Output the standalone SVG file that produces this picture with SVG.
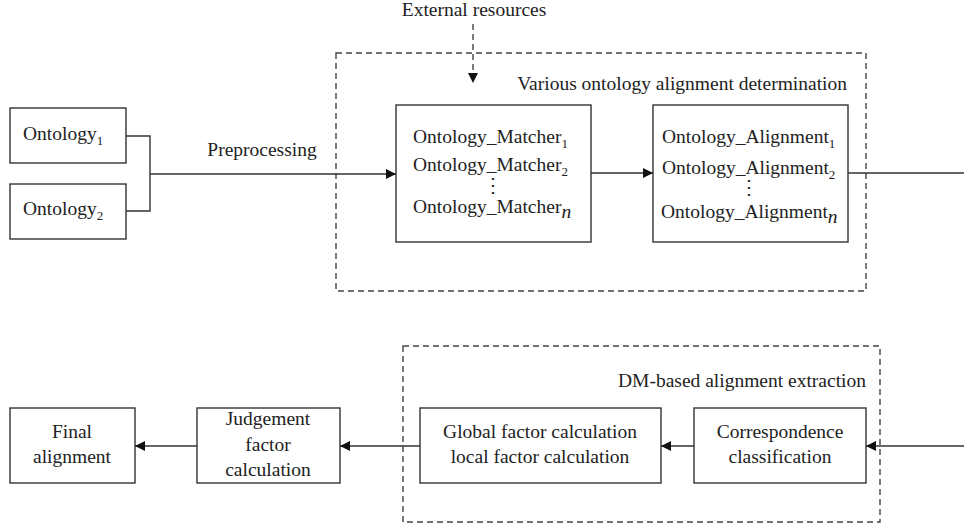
<svg xmlns="http://www.w3.org/2000/svg" width="964" height="526" viewBox="0 0 964 526">
<style>
.box{fill:#fff;stroke:#333;stroke-width:1.4}
.dash{fill:none;stroke:#444;stroke-width:1.4;stroke-dasharray:6 4}
.ln{fill:none;stroke:#333;stroke-width:1.4}
text{font-family:"Liberation Serif","Times New Roman",serif;font-size:19.5px;fill:#222}
.c{text-anchor:middle}
.e{text-anchor:end}
.sub{font-size:13px}
</style>
<defs>
<marker id="ah" viewBox="0 0 10 10" refX="10" refY="5" markerWidth="10" markerHeight="10" markerUnits="userSpaceOnUse" orient="auto">
<path d="M0,0 L10,5 L0,10 Z" fill="#111"/>
</marker>
</defs>
<rect width="964" height="526" fill="#fff"/>
<g id="group-top">
<rect class="dash" x="336" y="53" width="530" height="238"/>
<text class="e" x="847" y="90">Various ontology alignment determination</text>
</g>
<g id="group-bottom">
<rect class="dash" x="403" y="346" width="477" height="176"/>
<text class="e" x="866" y="387">DM-based alignment extraction</text>
</g>
<g id="external">
<text class="c" x="474" y="16">External resources</text>
</g>
<g id="ontology1">
<rect class="box" x="10" y="108" width="116" height="55"/>
<text x="23" y="140">Ontology<tspan class="sub" dy="5">1</tspan></text>
</g>
<g id="ontology2">
<rect class="box" x="10" y="184" width="116" height="55"/>
<text x="23" y="215">Ontology<tspan class="sub" dy="5">2</tspan></text>
</g>
<g id="matchers">
<rect class="box" x="396" y="105" width="195" height="137"/>
<text x="413" y="143">Ontology_Matcher<tspan class="sub" dy="5">1</tspan></text>
<text x="413" y="171">Ontology_Matcher<tspan class="sub" dy="5">2</tspan></text>
<text x="493" y="192" class="c" font-size="14">⋮</text>
<text x="413" y="213">Ontology_Matcher<tspan dy="5" font-style="italic">n</tspan></text>
</g>
<g id="alignments">
<rect class="box" x="653" y="105" width="195" height="137"/>
<text x="662" y="143">Ontology_Alignment<tspan class="sub" dy="5">1</tspan></text>
<text x="662" y="174">Ontology_Alignment<tspan class="sub" dy="5">2</tspan></text>
<text x="749" y="194" class="c" font-size="14">⋮</text>
<text x="661" y="218">Ontology_Alignment<tspan dy="5" font-style="italic">n</tspan></text>
</g>
<g id="correspondence">
<rect class="box" x="694" y="408" width="172" height="75"/>
<text class="c" x="780" y="438">Correspondence</text>
<text class="c" x="780" y="463">classification</text>
</g>
<g id="global">
<rect class="box" x="420" y="408" width="241" height="75"/>
<text class="c" x="540" y="438">Global factor calculation</text>
<text class="c" x="540" y="463">local factor calculation</text>
</g>
<g id="judgement">
<rect class="box" x="197" y="408" width="143" height="75"/>
<text class="c" x="268" y="425">Judgement</text>
<text class="c" x="268" y="451">factor</text>
<text class="c" x="268" y="476">calculation</text>
</g>
<g id="final">
<rect class="box" x="10" y="408" width="125" height="75"/>
<text class="c" x="72" y="438">Final</text>
<text class="c" x="72" y="463">alignment</text>
</g>
<g id="connectors">
<path class="ln" d="M126,136 H150 V211 H126"/>
<path class="ln" d="M150,174 H396" marker-end="url(#ah)"/>
<text class="c" x="262" y="156">Preprocessing</text>
<path class="dash" d="M473,24 V83" marker-end="url(#ah)"/>
<path class="ln" d="M591,173 H653" marker-end="url(#ah)"/>
<path class="ln" d="M848,173 H964"/>
<path class="ln" d="M964,446 H866" marker-end="url(#ah)"/>
<path class="ln" d="M694,446 H661" marker-end="url(#ah)"/>
<path class="ln" d="M420,446 H340" marker-end="url(#ah)"/>
<path class="ln" d="M197,446 H135" marker-end="url(#ah)"/>
</g>
</svg>
